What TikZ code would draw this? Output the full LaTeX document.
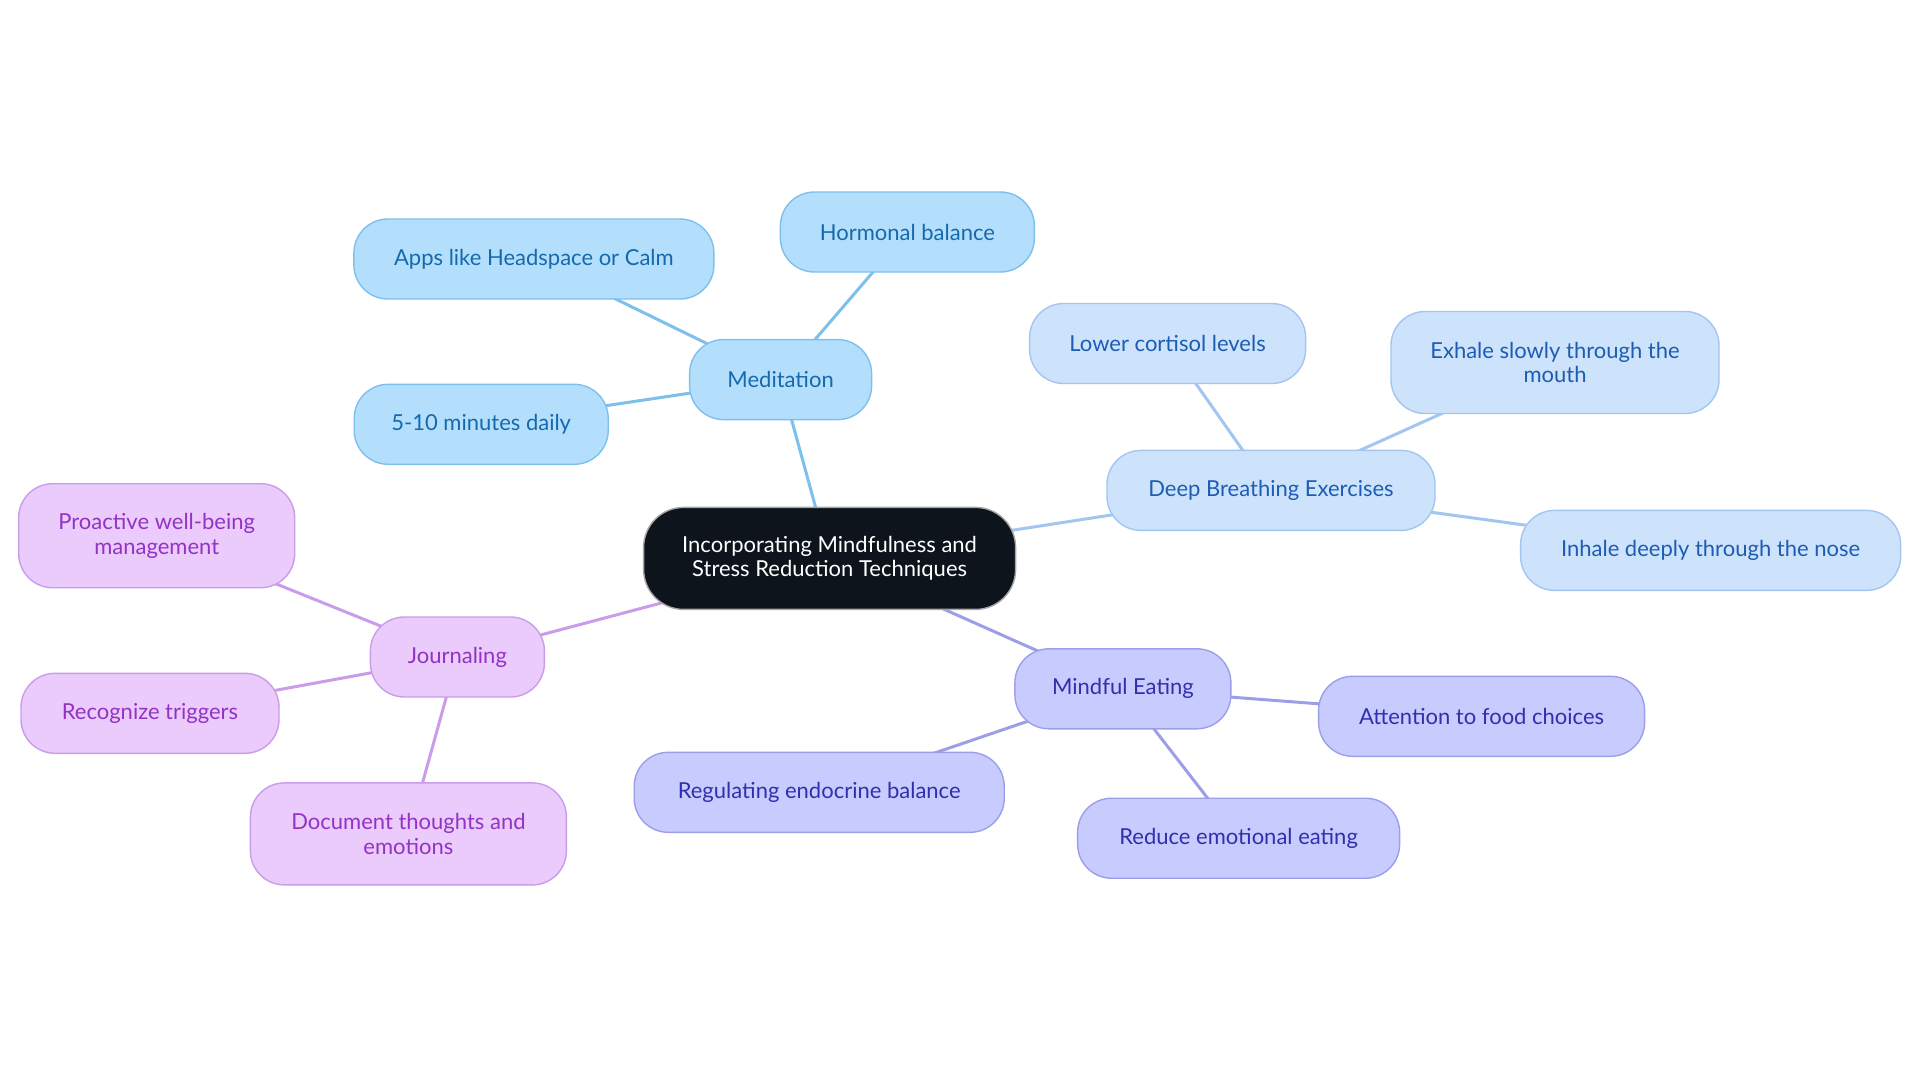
\documentclass[tikz,border=0pt]{standalone}
\usepackage{fontspec}
\setmainfont{Lato}
\usetikzlibrary{backgrounds}
\definecolor{rootfill}{HTML}{0D141C}
\definecolor{medfill}{HTML}{B4DFFC}\definecolor{medline}{HTML}{7EC0EC}\definecolor{medtext}{HTML}{1669AD}
\definecolor{brfill}{HTML}{CDE3FB}\definecolor{brline}{HTML}{A2C6F0}\definecolor{brtext}{HTML}{1E5CB4}
\definecolor{eatfill}{HTML}{C8CBFD}\definecolor{eatline}{HTML}{9C9FE8}\definecolor{eattext}{HTML}{3030AE}
\definecolor{jrfill}{HTML}{EACBFC}\definecolor{jrline}{HTML}{CA9CEA}\definecolor{jrtext}{HTML}{9233C4}
\tikzset{box/.style={draw,rectangle,rounded corners=17pt,minimum height=40pt,line width=0.7pt,align=center,
   font=\fontsize{11}{12.2}\selectfont},
 root/.style={box,fill=rootfill,draw=gray!70,text=white,rounded corners=20pt},
 med/.style={box,fill=medfill,draw=medline,text=medtext},
 br/.style={box,fill=brfill,draw=brline,text=brtext},
 eat/.style={box,fill=eatfill,draw=eatline,text=eattext},
 jr/.style={box,fill=jrfill,draw=jrline,text=jrtext},
 link/.style={line width=1.5pt}}

\begin{document}
\begin{tikzpicture}[x=0.5pt,y=-0.5pt]
\useasboundingbox(0,0) rectangle (1920,1083);
\node[root,minimum width=186pt,minimum height=51pt](c) at(829.6,558.4){Incorporating Mindfulness and\\Stress Reduction Techniques};
% meditation
\node[med,minimum width=91pt](m) at(780.6,379.6){Meditation};
\node[med,minimum width=180pt](ma) at(533.9,259){Apps like Headspace or Calm};
\node[med,minimum width=127pt](mh) at(907.4,232){Hormonal balance};
\node[med,minimum width=127pt](mm) at(481.2,424.3){5-10 minutes daily};
% breathing
\node[br,minimum width=164pt](b) at(1271,490.4){Deep Breathing Exercises};
\node[br,minimum width=138pt](bl) at(1167.6,343.5){Lower cortisol levels};
\node[br,minimum width=164pt,minimum height=51pt](be) at(1555,362.5){Exhale slowly through the\\mouth};
\node[br,minimum width=190pt](bi) at(1710.6,550.4){Inhale deeply through the nose};
% eating
\node[eat,minimum width=108pt](e) at(1122.9,688.8){Mindful Eating};
\node[eat,minimum width=163pt](ea) at(1481.6,716.3){Attention to food choices};
\node[eat,minimum width=185pt](er) at(819.2,792.3){Regulating endocrine balance};
\node[eat,minimum width=161pt](ee) at(1238.6,838.2){Reduce emotional eating};
% journaling
\node[jr,minimum width=87pt](j) at(457.4,657){Journaling};
\node[jr,minimum width=138pt,minimum height=52pt](jp) at(156.7,535.7){Proactive well-being\\management};
\node[jr,minimum width=129pt](jt) at(150,713.3){Recognize triggers};
\node[jr,minimum width=158pt,minimum height=51pt](jd) at(408.4,833.9){Document thoughts and\\emotions};
\begin{scope}[on background layer]
\fill[white](0,0) rectangle (1920,1083);
\draw[link,medline](c.center)--(m.center)(m.center)--(ma.center)(m.center)--(mh.center)(m.center)--(mm.center);
\draw[link,brline](c.center)--(b.center)(b.center)--(bl.center)(b.center)--(be.center)(b.center)--(bi.center);
\draw[link,eatline](c.center)--(e.center)(e.center)--(ea.center)(e.center)--(er.center)(e.center)--(ee.center);
\draw[link,jrline](c.center)--(j.center)(j.center)--(jp.center)(j.center)--(jt.center)(j.center)--(jd.center);
\end{scope}
\end{tikzpicture}
\end{document}
